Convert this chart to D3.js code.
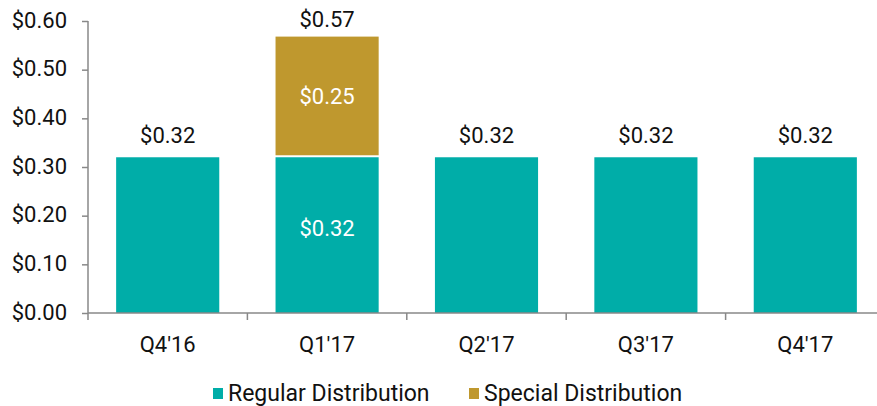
<!DOCTYPE html>
<html><head><meta charset="utf-8">
<script src="https://cdn.jsdelivr.net/npm/d3@7"></script>
<style>body{margin:0;background:#fff;} text{font-family:Roboto, "Noto Sans", sans-serif;}</style>
</head><body>
<svg id="c" width="877" height="406"></svg>
<script>
const categories = ["Q4'16","Q1'17","Q2'17","Q3'17","Q4'17"];
const regular = [0.32,0.32,0.32,0.32,0.32];
const special = [0,0.25,0,0,0];
const totals = [0.32,0.57,0.32,0.32,0.32];
const yTicks = [0,0.1,0.2,0.3,0.4,0.5,0.6];
const seriesNames = ["Regular Distribution","Special Distribution"];
const colors = ["#00ADA8","#BF982E"];

const FS = 22;
const svg = d3.select("#c");
const x = d3.scaleBand().domain(categories).range([88,885]).paddingInner(0.353).paddingOuter(0.1765);
const y = d3.scaleLinear().domain([0,0.6]).range([313,21]);
const fmt = d => "$" + d.toFixed(2);

// y axis
const ya = svg.append("g").attr("transform","translate(88,0)")
  .call(d3.axisLeft(y).tickValues(yTicks).tickFormat(fmt).tickSize(6).tickPadding(15));
ya.select(".domain").attr("stroke","#888").attr("stroke-width",1.5).attr("d","M0,"+y(0.6)+"V"+y(0));
ya.selectAll(".tick line").attr("stroke","#888").attr("stroke-width",1.5);
ya.selectAll(".tick text").attr("font-size",FS).attr("fill","#111").attr("font-family","Roboto").attr("dy","0.28em");

// bars
const g = svg.append("g");
g.selectAll(".reg").data(categories).join("rect")
  .attr("x",d=>x(d)).attr("width",x.bandwidth())
  .attr("y",(d,i)=>y(regular[i])).attr("height",(d,i)=>y(0)-y(regular[i]))
  .attr("fill",colors[0]);
g.selectAll(".spe").data(categories.filter((d,i)=>special[i]>0)).join("rect")
  .attr("x",d=>x(d)).attr("width",x.bandwidth())
  .attr("y",d=>{const i=categories.indexOf(d);return y(regular[i]+special[i])+1;})
  .attr("height",d=>{const i=categories.indexOf(d);return y(regular[i])-y(regular[i]+special[i])-3;})
  .attr("fill",colors[1]);

// x axis
const xa = svg.append("g").attr("transform","translate(0,313)");
xa.append("line").attr("x1",88).attr("x2",885).attr("stroke","#888").attr("stroke-width",1.5);
const bounds = categories.map(c=>x(c)-x.step()*x.paddingInner()/2);
xa.selectAll(".xt").data(bounds).join("line")
  .attr("x1",d=>d).attr("x2",d=>d).attr("y1",0).attr("y2",7).attr("stroke","#888").attr("stroke-width",1.5);
xa.selectAll(".xl").data(categories).join("text")
  .attr("x",d=>x(d)+x.bandwidth()/2).attr("y",39).attr("text-anchor","middle")
  .attr("font-size",FS).attr("fill","#111").text(d=>d);

// labels
categories.forEach((c,i)=>{
  const cx = x(c)+x.bandwidth()/2;
  if (special[i]>0) {
    svg.append("text").attr("x",cx).attr("y",y(totals[i])-9).attr("text-anchor","middle")
      .attr("font-size",FS).attr("fill","#111").text(fmt(totals[i]));
    svg.append("text").attr("x",cx).attr("y",(y(regular[i])+y(totals[i]))/2+8).attr("text-anchor","middle")
      .attr("font-size",FS).attr("fill","#fff").text(fmt(special[i]));
    svg.append("text").attr("x",cx).attr("y",(y(0)+y(regular[i]))/2+1).attr("text-anchor","middle")
      .attr("font-size",FS).attr("fill","#fff").text(fmt(regular[i]));
  } else {
    svg.append("text").attr("x",cx).attr("y",y(totals[i])-14).attr("text-anchor","middle")
      .attr("font-size",FS).attr("fill","#111").text(fmt(totals[i]));
  }
});

// legend
const legX = [213,469];
seriesNames.forEach((n,i)=>{
  svg.append("rect").attr("x",legX[i]).attr("y",388).attr("width",10).attr("height",11).attr("fill",colors[i]);
  svg.append("text").attr("x",legX[i]+15).attr("y",401).attr("font-size",23).attr("fill","#111").text(n);
});
</script>
</body></html>
